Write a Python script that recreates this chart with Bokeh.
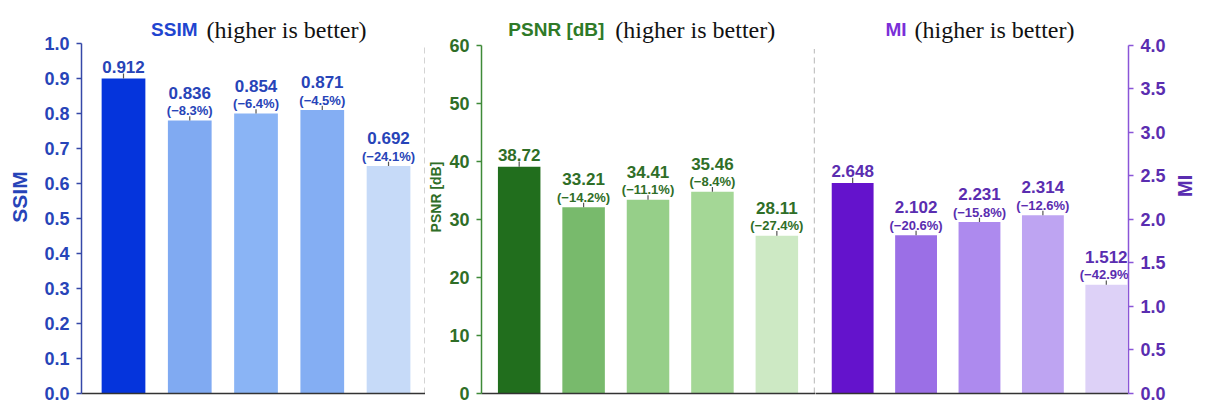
import math
from bokeh.plotting import figure
from bokeh.layouts import row
from bokeh.models import Range1d, ColumnDataSource, FixedTicker
from bokeh.core.properties import value
from bokeh.embed import file_html
from bokeh.resources import INLINE

# ---------------- data ----------------
positions = [1, 2, 3, 4, 5]

ssim_bar = [0.90, 0.78, 0.80, 0.81, 0.65]
ssim_err = [0.014, 0.012, 0.012, 0.012, 0.012]
ssim_val = ["0.912", "0.836", "0.854", "0.871", "0.692"]
ssim_pct = ["", "(−8.3%)", "(−6.4%)", "(−4.5%)", "(−24.1%)"]
ssim_ticks = [0.0, 0.1, 0.2, 0.3, 0.4, 0.5, 0.6, 0.7, 0.8, 0.9, 1.0]
ssim_tick_labels = ["0.0", "0.1", "0.2", "0.3", "0.4", "0.5", "0.6", "0.7", "0.8", "0.9", "1.0"]

psnr_bar = [39.1, 32.1, 33.4, 34.8, 27.2]
psnr_err = [0.9, 0.8, 0.8, 0.8, 0.8]
psnr_val = ["38.72", "33.21", "34.41", "35.46", "28.11"]
psnr_pct = ["", "(−14.2%)", "(−11.1%)", "(−8.4%)", "(−27.4%)"]
psnr_ticks = [0, 10, 20, 30, 40, 50, 60]
psnr_tick_labels = ["0", "10", "20", "30", "40", "50", "60"]

mi_bar = [2.42, 1.82, 1.97, 2.05, 1.25]
mi_err = [0.06, 0.05, 0.05, 0.05, 0.05]
mi_val = ["2.648", "2.102", "2.231", "2.314", "1.512"]
mi_pct = ["", "(−20.6%)", "(−15.8%)", "(−12.6%)", "(−42.9%)"]
mi_ticks = [0.0, 0.5, 1.0, 1.5, 2.0, 2.5, 3.0, 3.5, 4.0]
mi_tick_labels = ["0.0", "0.5", "1.0", "1.5", "2.0", "2.5", "3.0", "3.5", "4.0"]

title_rest = "(higher is better)"

SANS = "Liberation Sans"
SERIF = "Liberation Serif"

H = 405
FRAME_BOTTOM = 393  # px from top


def panel(width, bl, br, x_start, x_end, y_top, ax_max, ticks, tick_labels,
          bars, errs, vals, pcts, colors, txt_color, key_color, ax_color, side,
          ylabel, ylabel_size, ylabel_standoff, title_key, key_right_px,
          rest_left_px, sep_px):
    frame_w = width - bl - br
    p = figure(width=width, height=H, output_backend="svg", toolbar_location=None,
               x_range=Range1d(x_start, x_end), y_range=Range1d(0, y_top),
               y_axis_location=side, min_border_left=bl, min_border_right=br,
               min_border_top=0, min_border_bottom=H - FRAME_BOTTOM,
               background_fill_color="white", border_fill_color="white")
    p.outline_line_color = None
    p.grid.visible = False

    xs = (x_end - x_start) / frame_w  # data per px

    src = ColumnDataSource(dict(
        x=positions, top=bars, hi=[b + e for b, e in zip(bars, errs)],
        color=colors, val=vals, pct=pcts,
        voff=[-12 if q == "" else -28 for q in pcts],
    ))
    p.vbar(x="x", top="top", width=0.66, bottom=0, fill_color="color",
           line_color=None, source=src)
    p.segment(x0="x", y0="top", x1="x", y1="hi", line_color="#555555",
              line_width=1.2, source=src)
    p.text(x="x", y="top", text="val", y_offset="voff", text_align="center",
           text_baseline="alphabetic", text_font=value(SANS),
           text_font_style="bold", text_font_size="17px", text_color=txt_color,
           source=src)
    p.text(x="x", y="top", text="pct", y_offset=-10, text_align="center",
           text_baseline="alphabetic", text_font=value(SANS),
           text_font_style="bold", text_font_size="13px", text_color=txt_color,
           source=src)

    # panel title (two fonts)
    p.text(x=[x_start + key_right_px * xs], y=[y_top], text=[title_key],
           y_offset=29, text_align="right", text_baseline="alphabetic",
           text_font=value(SANS), text_font_style="bold", text_font_size="19px",
           text_color=key_color)
    p.text(x=[x_start + rest_left_px * xs], y=[y_top], text=[title_rest],
           y_offset=29, text_align="left", text_baseline="alphabetic",
           text_font=value(SERIF), text_font_size="24px", text_color="#111111")

    # dashed separator
    if sep_px is not None:
        p.segment(x0=[x_start + sep_px * xs], y0=[0], x1=[x_start + sep_px * xs],
                  y1=[ax_max * 0.99], line_color="#c4c4c4", line_width=1.5,
                  line_dash="6 4")

    # x axis (baseline only)
    xa = p.xaxis[0]
    xa.ticker = FixedTicker(ticks=[])
    xa.major_tick_line_color = None
    xa.minor_tick_line_color = None
    xa.axis_line_color = "#333333"
    xa.axis_line_width = 1.5

    ya = p.yaxis[0]
    ya.ticker = FixedTicker(ticks=ticks)
    ya.major_label_overrides = {t: l for t, l in zip(ticks, tick_labels)}
    ya.bounds = (0, ax_max)
    ya.minor_tick_line_color = None
    ya.major_tick_in = 0
    ya.major_tick_out = 5
    ya.major_tick_line_color = ax_color
    ya.major_tick_line_width = 1.5
    ya.axis_line_color = ax_color
    ya.axis_line_width = 1.5
    ya.major_label_text_font = SANS
    ya.major_label_text_font_style = "bold"
    ya.major_label_text_font_size = "18px"
    ya.major_label_text_color = txt_color
    ya.major_label_standoff = 7
    ya.axis_label = ylabel
    ya.axis_label_text_font = SANS
    ya.axis_label_text_font_style = "bold"
    ya.axis_label_text_font_size = ylabel_size
    ya.axis_label_text_color = txt_color
    ya.axis_label_standoff = ylabel_standoff
    if side == "right":
        try:
            ya.axis_label_orientation = math.pi / 2
        except Exception:
            pass
    return p


p1 = panel(425, 81, 0, 0.366, 5.558, 1.1229, 1.0, ssim_ticks, ssim_tick_labels,
           ssim_bar, ssim_err, ssim_val, ssim_pct,
           ["#0534dc", "#80aaf2", "#8ab4f5", "#84aef3", "#c6daf8"],
           "#2744b8", "#1f45d0", "#3548a8", "left", "SSIM", "21px", 10,
           "SSIM", 197 - 81, 206 - 81, 343.5)

p2 = panel(390, 53, 0, 0.415, 5.600, 67.76, 60, psnr_ticks, psnr_tick_labels,
           psnr_bar, psnr_err, psnr_val, psnr_pct,
           ["#216e1d", "#78ba6c", "#96cf89", "#a4d796", "#cde9c4"],
           "#2f6e27", "#2f7a28", "#3f8a38", "left", "PSNR [dB]", "14px", 2,
           "PSNR [dB]", 602 - 478, 613 - 478, 336)

p3 = panel(394, 0, 78, 0.414, 5.35, 4.517, 4.0, mi_ticks, mi_tick_labels,
           mi_bar, mi_err, mi_val, mi_pct,
           ["#6413cc", "#9b6fe6", "#ad8aee", "#bea4f2", "#ddd1f7"],
           "#5a2db0", "#7a2fd8", "#8a55d8", "right", "MI", "20px", 16,
           "MI", 907 - 815, 915 - 815, None)

layout = row(p1, p2, p3)
open("out.html", "w").write(file_html(layout, INLINE))
